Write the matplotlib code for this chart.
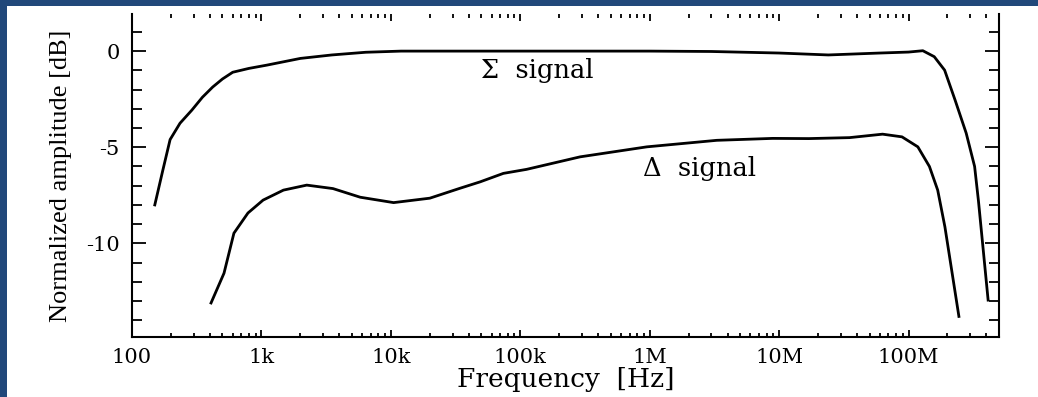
import matplotlib.pyplot as plt
from matplotlib.patches import Rectangle
from matplotlib.ticker import FixedLocator, FixedFormatter, LogLocator, NullFormatter

# Sigma signal (Hz, dB)
sum_freq = [150, 173, 197, 235, 290, 350, 420, 500, 600, 800, 1100, 2000, 3500,
            6400, 1.2e4, 3e4, 1e5, 3e5, 1e6, 3e6, 1e7, 2.4e7, 6e7, 1.0e8,
            1.29e8, 1.58e8, 1.9e8, 2.29e8, 2.79e8, 3.24e8, 3.47e8, 4.12e8]
sum_db = [-8.0, -6.2, -4.6, -3.75, -3.07, -2.4, -1.87, -1.45, -1.1, -0.9, -0.73,
          -0.38, -0.2, -0.06, 0.0, 0.0, 0.0, 0.0, 0.0, -0.02, -0.1, -0.2, -0.1,
          -0.05, 0.02, -0.29, -0.99, -2.55, -4.27, -6.0, -7.8, -12.95]

# Delta signal (Hz, dB)
diff_freq = [408, 514, 613, 787, 1030, 1480, 2240, 3570, 5800, 1.05e4, 2e4, 3.4e4,
             4.9e4, 7.4e4, 1.12e5, 2.9e5, 9.5e5, 3.3e6, 8.9e6, 1.7e7, 3.5e7, 6.3e7,
             8.9e7, 1.18e8, 1.45e8, 1.68e8, 1.91e8, 2.45e8]
diff_db = [-13.1, -11.55, -9.47, -8.42, -7.75, -7.23, -6.97, -7.15, -7.6, -7.88,
           -7.65, -7.14, -6.8, -6.36, -6.15, -5.5, -4.98, -4.64, -4.54, -4.55,
           -4.5, -4.32, -4.46, -4.98, -6.0, -7.23, -9.14, -13.8]

xtick_vals = [1e2, 1e3, 1e4, 1e5, 1e6, 1e7, 1e8]
xtick_labels = ['100', '1k', '10k', '100k', '1M', '10M', '100M']
ytick_vals = [0, -5, -10]
ytick_labels = ['0', '-5', '-10']

# the source picture is stretched sideways, a wide serif fits it better
plt.rcParams['font.family'] = ['DejaVu Serif']

W, H = 1038, 397
fig = plt.figure(figsize=(W / 100, H / 100), dpi=100, facecolor='#21487a')
# white page inside the blue frame
fig.patches.append(Rectangle((7 / W, 0), 1, (H - 6) / H, transform=fig.transFigure,
                             facecolor='white', edgecolor='none', zorder=-10))

ax = fig.add_axes([132 / W, (H - 337) / H, (999 - 132) / W, (337 - 14) / H])
ax.set_facecolor('white')
ax.plot(sum_freq, sum_db, color='black', lw=2)
ax.plot(diff_freq, diff_db, color='black', lw=2)

ax.set_xscale('log')
ax.set_xlim(100, 5e8)
ax.set_ylim(-14.87, 1.93)

ax.xaxis.set_major_locator(FixedLocator(xtick_vals))
ax.xaxis.set_major_formatter(FixedFormatter(xtick_labels))
ax.xaxis.set_minor_locator(LogLocator(base=10, subs=range(2, 10)))
ax.xaxis.set_minor_formatter(NullFormatter())
ax.yaxis.set_major_locator(FixedLocator(ytick_vals))
ax.yaxis.set_major_formatter(FixedFormatter(ytick_labels))
ax.yaxis.set_minor_locator(FixedLocator(range(-14, 2)))

ax.tick_params(axis='both', which='both', direction='in', top=True, right=True,
               width=1.3, labelsize=15)
ax.tick_params(axis='x', which='major', length=5, pad=8)
ax.tick_params(axis='x', which='minor', length=3)
ax.tick_params(axis='y', which='major', length=10, pad=9)
ax.tick_params(axis='y', which='minor', length=7)
ax.spines['top'].set_visible(False)
for s in ['left', 'right', 'bottom']:
    ax.spines[s].set_linewidth(1.5)

ax.set_xlabel('Frequency  [Hz]', fontsize=19, labelpad=0)
ax.set_ylabel('Normalized amplitude [dB]', fontsize=19, labelpad=10,
              family=['Liberation Serif', 'DejaVu Serif'])

ax.text(5e4, -1.0, '\u03a3  signal', fontsize=18.5, va='center', ha='left')
ax.text(8.9e5, -6.1, '\u0394  signal', fontsize=18.5, va='center', ha='left')

fig.savefig('out.png', dpi=100, facecolor=fig.get_facecolor())
